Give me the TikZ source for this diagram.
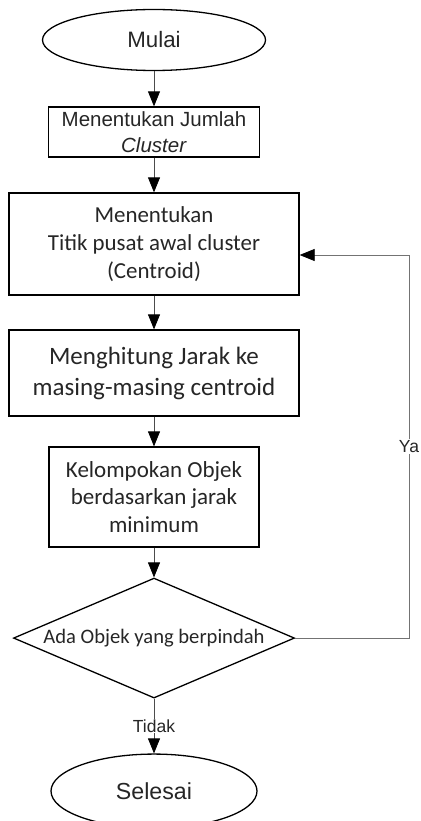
\documentclass[tikz,border=0pt]{standalone}
\usepackage{fontspec}
\setmainfont{Liberation Sans}
\newfontfamily\calibri{Carlito}
\usetikzlibrary{shapes.geometric, arrows.meta, positioning}

\tikzstyle{startstop} = [ellipse, minimum width=223pt, minimum height=61pt, text centered, draw=black, line width=1.3pt, font=\fontsize{22.3}{26}\selectfont]
\tikzstyle{process} = [rectangle, text centered, align=center, inner sep=0pt, draw=black, line width=1.3pt]
\tikzstyle{decision} = [diamond, aspect=2.34, minimum width=281pt, minimum height=120pt, inner sep=0pt, text centered, draw=black, line width=1.3pt, font=\calibri\fontsize{20.6}{24}\selectfont]
\tikzstyle{arrow} = [line width=0.8pt, draw=black!70, -{Triangle[length=15pt, width=12pt, color=black]}]
\tikzstyle{answer} = [fill=white, inner sep=1pt, font=\fontsize{17.5}{20}\selectfont]

\begin{document}
\begin{tikzpicture}[node distance=4cm, x=1pt, y=1pt, text=black!85]
\useasboundingbox (0,0) rectangle (420,-821);

% Start
\node (start) [startstop] at (154,-40) {Mulai};
\node (jumlah) [process, below of=start, yshift=21.8pt, minimum width=211pt, minimum height=50pt, font=\fontsize{20.5}{26}\selectfont] {Menentukan Jumlah\\\textit{Cluster}};

% Loop body
\node (awal) [process, below of=jumlah, yshift=1.8pt, minimum width=290pt, minimum height=102pt, font=\calibri\fontsize{22.9}{28}\selectfont] {Menentukan\\Titik pusat awal cluster\\(Centroid)};
\node (jarak) [process, below of=awal, yshift=-15.2pt, minimum width=290pt, minimum height=86pt, font=\calibri\fontsize{25}{31}\selectfont] {Menghitung Jarak ke\\masing-masing centroid};
\node (kelompok) [process, below of=jarak, yshift=-10.2pt, minimum width=210pt, minimum height=100pt, font=\calibri\fontsize{23}{27.5}\selectfont] {Kelompokan Objek\\berdasarkan jarak\\minimum};
\node (pindah) [decision, below of=kelompok, yshift=-27.2pt] {Ada Objek yang berpindah};

% End
\node (stop) [startstop, below of=pindah, yshift=-39.2pt, minimum width=206pt, minimum height=74pt, font=\fontsize{23.2}{27}\selectfont] {Selesai};
\coordinate (balik) at (409,-255);

% Arrows
\draw [arrow] (start) -- (jumlah);
\draw [arrow] (jumlah) -- (awal);
\draw [arrow] (awal) -- (jarak);
\draw [arrow] (jarak) -- (kelompok);
\draw [arrow] (kelompok) -- (pindah);
\draw [arrow] (pindah) -- node[answer] {Tidak} (stop);
\draw [arrow, draw=black!55] (pindah.east) -| node[pos=0.75, answer] {Ya} (balik) -- (awal.east |- balik);

\end{tikzpicture}
\end{document}
